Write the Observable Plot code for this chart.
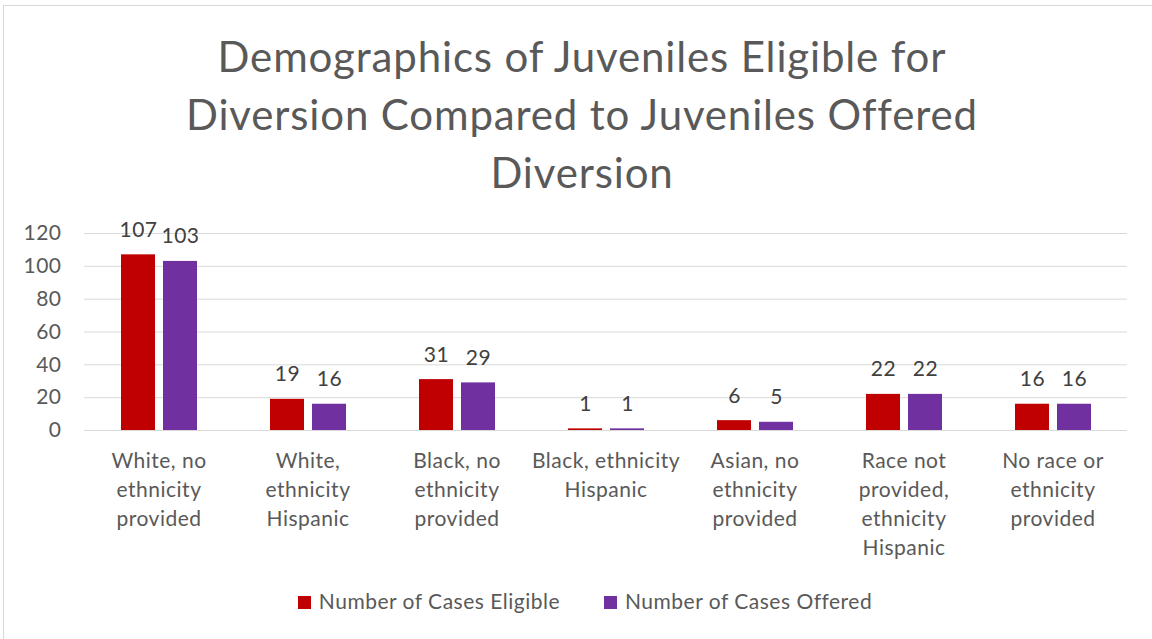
<!DOCTYPE html>
<html>
<head>
<meta charset="utf-8">
<script src="https://cdn.jsdelivr.net/npm/d3@7"></script>
<script src="https://cdn.jsdelivr.net/npm/@observablehq/plot@0.6"></script>
<style>
  html, body { margin: 0; padding: 0; background: #fff; }
  #wrap { position: relative; width: 1152px; height: 639px; overflow: hidden; font-family: Lato, "Open Sans", sans-serif; }
  #border { position: absolute; left: 3px; top: 5px; width: 1160px; height: 640px; border: 1px solid #d9d9d9; box-sizing: border-box; }
  #title { position: absolute; left: 132px; width: 900px; top: 27px; text-align: center; font-size: 42px; line-height: 58px; letter-spacing: 0.85px; color: #595959; }
  #chart { position: absolute; left: 0; top: 200px; }
  #legend { position: absolute; top: 588px; left: 0; width: 1170px; text-align: center; font-size: 21px; letter-spacing: 0.5px; color: #595959; }
  .li { display: inline-block; margin: 0 22px; }
  .sw { display: inline-block; width: 13px; height: 13px; margin-right: 8px; vertical-align: 0px; }
</style>
</head>
<body>
<div id="wrap">
  <div id="border"></div>
  <div id="title">Demographics of Juveniles Eligible for<br>Diversion Compared to Juveniles Offered<br>Diversion</div>
  <div id="chart"></div>
  <div id="legend"></div>
</div>
<script>
const categories = [
  "White, no ethnicity provided",
  "White, ethnicity Hispanic",
  "Black, no ethnicity provided",
  "Black, ethnicity Hispanic",
  "Asian, no ethnicity provided",
  "Race not provided, ethnicity Hispanic",
  "No race or ethnicity provided"
];
const tickLabels = [
  "White, no\nethnicity\nprovided",
  "White,\nethnicity\nHispanic",
  "Black, no\nethnicity\nprovided",
  "Black, ethnicity\nHispanic",
  "Asian, no\nethnicity\nprovided",
  "Race not\nprovided,\nethnicity\nHispanic",
  "No race or\nethnicity\nprovided"
];
const series = ["Number of Cases Eligible", "Number of Cases Offered"];
const eligible = [107, 19, 31, 1, 6, 22, 16];
const offered = [103, 16, 29, 1, 5, 22, 16];
const colors = ["#C00000", "#7030A0"];
const yTicks = [0, 20, 40, 60, 80, 100, 120];

const data = [];
categories.forEach((c, i) => {
  data.push({category: c, series: series[0], value: eligible[i]});
  data.push({category: c, series: series[1], value: offered[i]});
});

const chart = Plot.plot({
  width: 1152,
  height: 370,
  marginLeft: 83,
  marginRight: 24,
  marginTop: 33,
  marginBottom: 140,
  style: { fontFamily: "Lato, 'Open Sans', sans-serif", fontSize: "21px", letterSpacing: "0.5px", color: "#595959", background: "transparent" },
  fx: { domain: categories, padding: 0, label: null },
  x: { domain: series, paddingInner: 0.2, paddingOuter: 0.85, axis: null },
  y: { domain: [0, 120], label: null },
  color: { domain: series, range: colors },
  marks: [
    Plot.gridY(yTicks, { stroke: "#d9d9d9", strokeOpacity: 1, strokeWidth: 1 }),
    Plot.axisY(yTicks, { tickSize: 0, tickPadding: 23, label: null, fontSize: 21, fill: "#595959" }),
    Plot.axisFx({ anchor: "bottom", tickSize: 0, tickPadding: 17, label: null, fontSize: 21, lineHeight: 1.38, fill: "#595959",
      tickFormat: d => tickLabels[categories.indexOf(d)] }),
    Plot.barY(data, { fx: "category", x: "series", y: "value", fill: "series" }),
    Plot.text(data, { fx: "category", x: "series", y: "value", text: d => String(d.value), lineAnchor: "bottom", dy: -18, fontSize: 21, fill: "#404040" })
  ]
});
document.getElementById("chart").appendChild(chart);

const legend = document.getElementById("legend");
series.forEach((s, i) => {
  const item = document.createElement("span");
  item.className = "li";
  const sw = document.createElement("span");
  sw.className = "sw";
  sw.style.background = colors[i];
  item.appendChild(sw);
  item.appendChild(document.createTextNode(s));
  legend.appendChild(item);
});
</script>
</body>
</html>
